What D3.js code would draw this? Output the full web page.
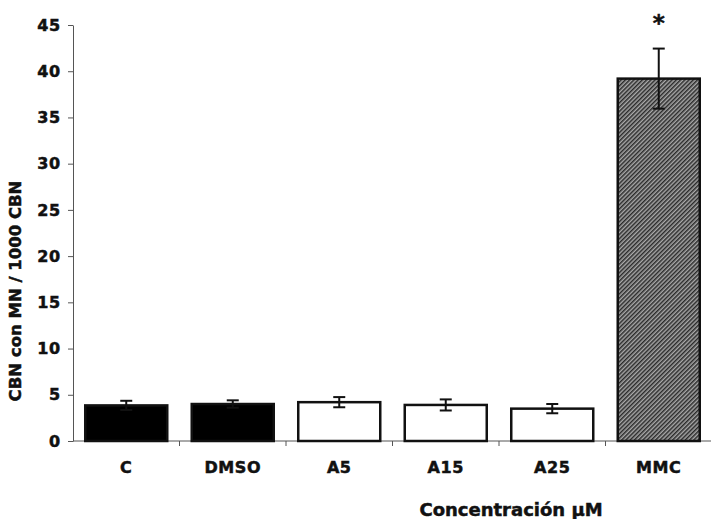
<!DOCTYPE html>
<html><head><meta charset="utf-8">
<script src="https://cdn.jsdelivr.net/npm/d3@7"></script>
<style>body{margin:0;background:#fff} text{stroke:#111;stroke-width:0.5px}</style></head>
<body><svg id="c" width="711" height="519"></svg>
<script>
const categories = ["C","DMSO","A5","A15","A25","MMC"];
const values = [3.85, 4.0, 4.2, 3.9, 3.5, 39.2];
const errors = [0.5, 0.4, 0.55, 0.6, 0.5, 3.25];
const fills = ["black","black","white","white","white","hatch"];
const yTicks = [0,5,10,15,20,25,30,35,40,45];
const marks = ["","","","","","*"];

const svg = d3.select("#c");
const font = "'DejaVu Sans', Verdana, sans-serif";
const x = d3.scaleBand().domain(categories).range([73, 712]).paddingInner(0.23).paddingOuter(0.115);
const y = d3.scaleLinear().domain([0,45]).range([441, 25]);

const defs = svg.append("defs");
const pat = defs.append("pattern").attr("id","hatch").attr("patternUnits","userSpaceOnUse")
  .attr("width",3).attr("height",3).attr("patternTransform","rotate(45)");
pat.append("rect").attr("width",3).attr("height",3).attr("fill","#a8a8a8");
pat.append("rect").attr("width",1.5).attr("height",3).attr("fill","#2a2a2a");

// axes
const ya = svg.append("g").attr("transform","translate(73,0)")
  .call(d3.axisLeft(y).tickValues(yTicks).tickSize(5).tickSizeOuter(0));
ya.select(".domain").attr("stroke","#555");
ya.selectAll(".tick line").attr("stroke","#555");
ya.selectAll("text").attr("font-family",font).attr("font-weight","bold").attr("font-size",16)
  .attr("letter-spacing",0.8).attr("fill","#111").attr("x",-12);

const xa = svg.append("g").attr("transform","translate(0,441)");
xa.append("line").attr("x1",73).attr("x2",712).attr("stroke","#555");
const step = x.step();
d3.range(1,categories.length).forEach(i=>{
  const tx = x(categories[i]) - x.paddingInner()*step/2;
  xa.append("line").attr("x1",tx).attr("x2",tx).attr("y1",0).attr("y2",5).attr("stroke","#555");
});
xa.selectAll("text.cat").data(categories).join("text").attr("class","cat")
  .attr("x",d=>x(d)+x.bandwidth()/2).attr("y",32).attr("text-anchor","middle")
  .attr("font-family",font).attr("font-weight","bold").attr("font-size",16).attr("letter-spacing",0.6)
  .attr("fill","#111").text(d=>d);

// bars
const data = categories.map((c,i)=>({c, v:values[i], e:errors[i], f:fills[i], m:marks[i]}));
svg.selectAll("rect.bar").data(data).join("rect").attr("class","bar")
  .attr("x",d=>x(d.c)).attr("y",d=>y(d.v)).attr("width",x.bandwidth()).attr("height",d=>y(0)-y(d.v))
  .attr("fill",d=>d.f==="hatch"?"url(#hatch)":d.f).attr("stroke","#111").attr("stroke-width",2.5);

// error bars
const eg = svg.selectAll("g.err").data(data).join("g").attr("class","err")
  .attr("transform",d=>`translate(${x(d.c)+x.bandwidth()/2},0)`);
eg.append("line").attr("y1",d=>y(d.v+d.e)).attr("y2",d=>y(d.v-d.e)).attr("stroke","#111").attr("stroke-width",2);
eg.append("line").attr("x1",-6).attr("x2",6).attr("y1",d=>y(d.v+d.e)).attr("y2",d=>y(d.v+d.e)).attr("stroke","#111").attr("stroke-width",2);
eg.append("line").attr("x1",-6).attr("x2",6).attr("y1",d=>y(d.v-d.e)).attr("y2",d=>y(d.v-d.e)).attr("stroke","#111").attr("stroke-width",2);
eg.append("text").attr("y",d=>y(d.v+d.e)-18).attr("text-anchor","middle")
  .attr("font-family",font).attr("font-weight","bold").attr("font-size",23).attr("fill","#111").text(d=>d.m);

// titles
svg.append("text").attr("transform","translate(21,291) rotate(-90)").attr("text-anchor","middle")
  .attr("font-family",font).attr("font-weight","bold").attr("font-size",16.5).attr("fill","#111").text("CBN con MN / 1000 CBN");
svg.append("text").attr("x",511).attr("y",516).attr("text-anchor","middle")
  .attr("font-family",font).attr("font-weight","bold").attr("font-size",18).attr("fill","#111").text("Concentración µM");
</script></body></html>
